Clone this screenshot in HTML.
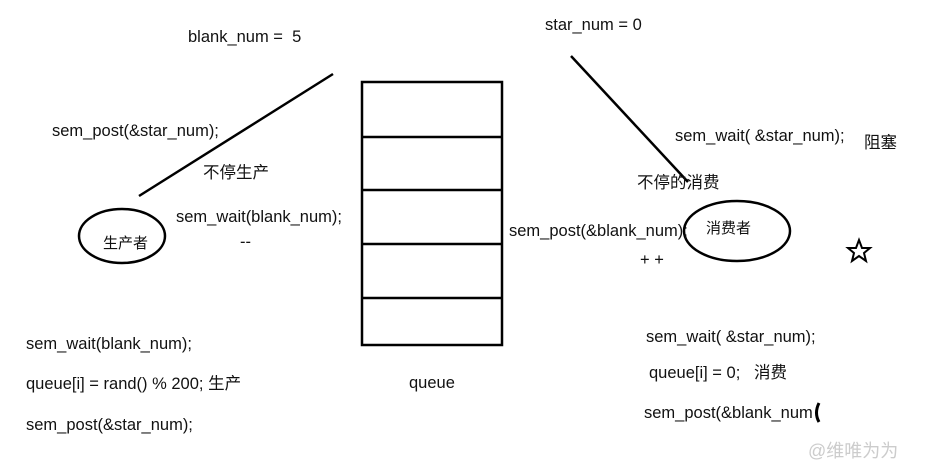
<!DOCTYPE html>
<html><head><meta charset="utf-8"><style>
html,body{margin:0;padding:0;background:#fff;width:930px;height:471px;overflow:hidden}
svg text{font-family:"Liberation Sans","Noto Sans CJK SC",sans-serif;font-size:16.5px;fill:#111}
</style></head><body>
<svg width="930" height="471" xmlns="http://www.w3.org/2000/svg">
<g stroke="#000" stroke-width="2.5" fill="none">
<rect x="362" y="82" width="140" height="263"/>
<line x1="362" y1="137" x2="502" y2="137"/>
<line x1="362" y1="190" x2="502" y2="190"/>
<line x1="362" y1="244" x2="502" y2="244"/>
<line x1="362" y1="298" x2="502" y2="298"/>
<line x1="333" y1="74" x2="139" y2="196"/>
<line x1="571" y1="56" x2="688" y2="182"/>
<ellipse cx="122" cy="236" rx="43" ry="27"/>
<ellipse cx="737" cy="231" rx="53" ry="30"/>
<path d="M819 403 Q814 413 819 422" stroke-width="3"/>
</g>
<polygon points="859,240 862,248 870,248 864,253 866,261 859,256 852,261 854,253 848,248 856,248" fill="none" stroke="#000" stroke-width="2"/>
<text x="188" y="42">blank_num =&#160; 5</text>
<text x="545" y="30">star_num = 0</text>
<text x="52" y="136">sem_post(&amp;star_num);</text>
<text x="203" y="178">不停生产</text>
<text x="176" y="222">sem_wait(blank_num);</text>
<text x="240" y="247">--</text>
<text x="103" y="248" style="font-size:15px">生产者</text>
<text x="675" y="141">sem_wait( &amp;star_num);</text>
<text x="864" y="148">阻塞</text>
<text x="637" y="188">不停的消费</text>
<text x="509" y="236">sem_post(&amp;blank_num);</text>
<text x="706" y="233" style="font-size:15px">消费者</text>
<text x="640" y="265">+ +</text>
<text x="26" y="349">sem_wait(blank_num);</text>
<text x="26" y="389">queue[i] = rand() % 200; 生产</text>
<text x="26" y="430">sem_post(&amp;star_num);</text>
<text x="409" y="388">queue</text>
<text x="646" y="342">sem_wait( &amp;star_num);</text>
<text x="649" y="378">queue[i] = 0;&#160;&#160;&#160;消费</text>
<text x="644" y="418">sem_post(&amp;blank_num</text>
<text x="808" y="457" style="font-size:18px;fill:#ccc">@维唯为为</text>
</svg>
</body></html>
